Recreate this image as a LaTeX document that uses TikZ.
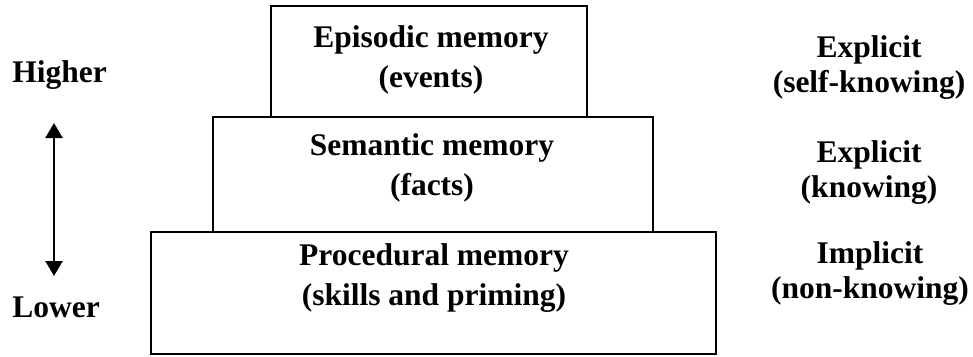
\documentclass[tikz,border=0pt]{standalone}
\usepackage{fontspec}
\setmainfont{Liberation Serif}
\usetikzlibrary{arrows.meta}
\begin{document}
\begin{tikzpicture}[x=1pt,y=-1pt,
  level/.style={draw=black,line width=1.4pt,fill=white,inner sep=0pt},
  boxtext/.style={font=\bfseries\fontsize{31.5}{40}\selectfont,align=center,inner sep=0pt},
  sidetext/.style={font=\bfseries\fontsize{31.5}{35}\selectfont,align=center,inner sep=0pt},
  axislabel/.style={font=\bfseries\fontsize{31.5}{36}\selectfont,inner sep=0pt,anchor=base}]
\useasboundingbox (0,0) rectangle (973,356);

% stacked levels of the hierarchy
\node[level,minimum width=565pt,minimum height=122pt] (proc) at (433.5,293) {};
\node[level,minimum width=440pt,minimum height=115pt] (sem) at (433,174.5) {};
\node[level,minimum width=316pt,minimum height=111pt] (epi) at (429,61.5) {};

\node[boxtext] (epitext) at (431,60) {Episodic memory\\(events)};
\node[boxtext] (semtext) at (432,168) {Semantic memory\\(facts)};
\node[boxtext] (proctext) at (434,278.5) {Procedural memory\\(skills and priming)};

% kind of knowledge
\node[sidetext] (k1) at (869,68) {Explicit\\(self-knowing)};
\node[sidetext] (k2) at (869,172.5) {Explicit\\(knowing)};
\node[sidetext] (k3) at (870,274) {Implicit\\(non-knowing)};

% vertical scale
\node[axislabel] (higher) at (59.5,82) {Higher};
\node[axislabel] (lower) at (56,317) {Lower};
\coordinate (top) at (54,123);
\coordinate (bot) at (54,276);
\draw[line width=2.2pt,{Triangle[width=17pt,length=15pt]}-{Triangle[width=17pt,length=15pt]}] (top) -- (bot);
\end{tikzpicture}
\end{document}
